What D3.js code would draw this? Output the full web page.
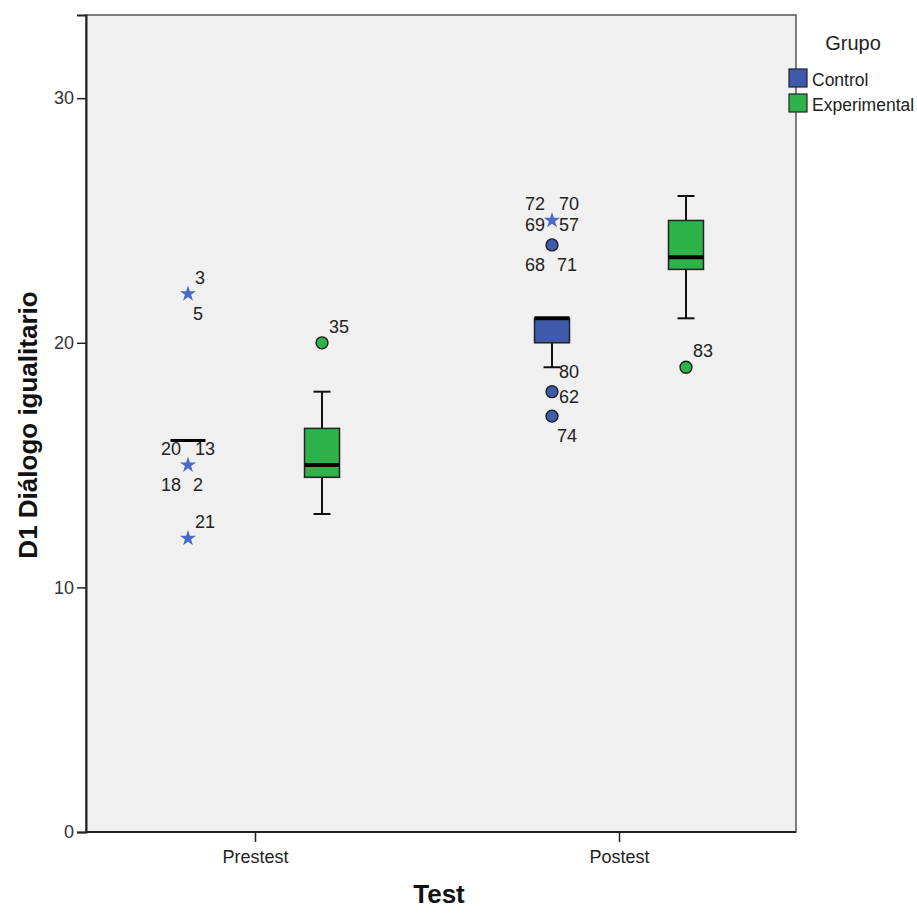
<!DOCTYPE html>
<html>
<head>
<meta charset="utf-8">
<script src="https://cdn.jsdelivr.net/npm/d3@7"></script>
<style>
  body { margin: 0; background: #fff; }
  text { font-family: "Liberation Sans", Arial, sans-serif; }
</style>
</head>
<body>
<script>
// categories
var tests = ["Prestest", "Postest"];
var groups = ["Control", "Experimental"];
var yTicks = [0, 10, 20, 30];

// box stats per test: [low whisker, q1, median, q3, high whisker]
var controlStats = [[16, 16, 16, 16, 16], [19, 20, 21, 21, 21]];
var experimentalStats = [[13, 14.5, 15, 16.5, 18], [21, 23, 23.5, 25, 26]];

// outliers (o), extremes (*), labelled cases
var outliers = [
  {test: "Prestest", group: "Control", value: 22, kind: "extreme", ids: ["3", "5"]},
  {test: "Prestest", group: "Control", value: 15, kind: "extreme", ids: ["20", "13", "18", "2"]},
  {test: "Prestest", group: "Control", value: 12, kind: "extreme", ids: ["21"]},
  {test: "Prestest", group: "Experimental", value: 20, kind: "outlier", ids: ["35"]},
  {test: "Postest", group: "Control", value: 25, kind: "extreme", ids: ["72", "70", "69", "57"]},
  {test: "Postest", group: "Control", value: 24, kind: "outlier", ids: ["68", "71"]},
  {test: "Postest", group: "Control", value: 19, kind: "label", ids: ["80"]},
  {test: "Postest", group: "Control", value: 18, kind: "outlier", ids: ["62"]},
  {test: "Postest", group: "Control", value: 17, kind: "outlier", ids: ["74"]},
  {test: "Postest", group: "Experimental", value: 19, kind: "outlier", ids: ["83"]}
];

// where each case label sits around its mark
var labelPlace = {
  "3": "ne", "5": "se", "20": "nw", "13": "ne", "18": "sw", "2": "se", "21": "ne",
  "35": "ne", "72": "nw", "70": "ne", "69": "w", "57": "e", "68": "sw", "71": "se",
  "80": "e", "62": "e", "74": "se", "83": "ne"
};
// [dx, dy, anchor]
var placeOffset = {
  ne: [7, -10, "start"], nw: [-7, -10, "end"],
  se: [5, 26, "start"], sw: [-7, 26, "end"],
  e: [7, 11, "start"], w: [-7, 11, "end"]
};

var colors = {Control: "#3F59AB", Experimental: "#2DB34A"};
var starColor = "#4B69C6";

var width = 917, height = 913;
var plot = {left: 86, right: 796, top: 15, bottom: 832};

var svg = d3.select("body")
            .append("svg")
            .attr("width", width)
            .attr("height", height);

// scales
var y = d3.scaleLinear()
          .domain([0, 33.4])
          .range([plot.bottom, plot.top]);
var x = d3.scalePoint()
          .domain(tests)
          .range([plot.left + 169, plot.right - 177]);
var xg = d3.scalePoint()
           .domain(groups)
           .range([-67, 67]);

function cx(test, group) {
  return x(test) + xg(group);
}

// plot background
svg.append("rect")
   .attr("x", plot.left)
   .attr("y", plot.top)
   .attr("width", plot.right - plot.left)
   .attr("height", plot.bottom - plot.top)
   .attr("fill", "#F0F0F0")
   .attr("stroke", "#555")
   .attr("stroke-width", 1.5);

// y axis
var yAxis = svg.append("g")
               .attr("transform", "translate(" + plot.left + ",0)")
               .call(d3.axisLeft(y).tickValues(yTicks).tickSize(9).tickPadding(3));
yAxis.select(".domain").attr("stroke", "#222").attr("stroke-width", 2);
yAxis.selectAll(".tick line").attr("stroke", "#222").attr("stroke-width", 1.5);
yAxis.selectAll(".tick text")
     .attr("fill", "#333")
     .style("font-size", "18px")
     .style("font-family", "Liberation Sans, Arial, sans-serif");

// x axis
var xAxis = svg.append("g")
               .attr("transform", "translate(0," + plot.bottom + ")")
               .call(d3.axisBottom(x).tickSize(10).tickPadding(8));
xAxis.select(".domain")
     .attr("d", "M" + plot.left + ",0H" + plot.right)
     .attr("stroke", "#222").attr("stroke-width", 2);
xAxis.selectAll(".tick line").attr("stroke", "#222").attr("stroke-width", 1.5);
xAxis.selectAll(".tick text")
     .attr("fill", "#222")
     .style("font-size", "18px")
     .style("font-family", "Liberation Sans, Arial, sans-serif");

// axis titles
svg.append("text")
   .attr("x", 439)
   .attr("y", 903)
   .attr("text-anchor", "middle")
   .style("font-weight", "bold")
   .style("font-size", "26px")
   .attr("fill", "#111")
   .text("Test");

svg.append("text")
   .attr("transform", "translate(37," + 425 + ") rotate(-90)")
   .attr("text-anchor", "middle")
   .style("font-weight", "bold")
   .style("font-size", "26px")
   .attr("fill", "#111")
   .text("D1 Diálogo igualitario");

// boxes
var boxW = 35, capW = 17;
var boxes = [];
tests.forEach(function(t, i) {
  boxes.push({test: t, group: "Control", s: controlStats[i]});
  boxes.push({test: t, group: "Experimental", s: experimentalStats[i]});
});

var bg = svg.selectAll(".box")
            .data(boxes)
            .enter()
            .append("g")
            .attr("class", "box");

// whiskers
bg.append("line")
  .attr("x1", function(d) { return cx(d.test, d.group); })
  .attr("x2", function(d) { return cx(d.test, d.group); })
  .attr("y1", function(d) { return y(d.s[0]); })
  .attr("y2", function(d) { return y(d.s[4]); })
  .attr("stroke", "#111")
  .attr("stroke-width", 2);
bg.selectAll(".cap")
  .data(function(d) { return [{b: d, v: d.s[0]}, {b: d, v: d.s[4]}]; })
  .enter()
  .append("line")
  .attr("x1", function(d) { return cx(d.b.test, d.b.group) - capW / 2; })
  .attr("x2", function(d) { return cx(d.b.test, d.b.group) + capW / 2; })
  .attr("y1", function(d) { return y(d.v); })
  .attr("y2", function(d) { return y(d.v); })
  .attr("stroke", "#111")
  .attr("stroke-width", 2);

// box body
bg.append("rect")
  .attr("x", function(d) { return cx(d.test, d.group) - boxW / 2; })
  .attr("y", function(d) { return y(d.s[3]); })
  .attr("width", boxW)
  .attr("height", function(d) { return y(d.s[1]) - y(d.s[3]); })
  .attr("fill", function(d) { return colors[d.group]; })
  .attr("stroke", "#222")
  .attr("stroke-width", 1.5);

// median (thinner when the box has collapsed to a line)
bg.append("line")
  .attr("x1", function(d) { return cx(d.test, d.group) - boxW / 2; })
  .attr("x2", function(d) { return cx(d.test, d.group) + boxW / 2; })
  .attr("y1", function(d) { return y(d.s[2]); })
  .attr("y2", function(d) { return y(d.s[2]); })
  .attr("stroke", "#000")
  .attr("stroke-width", function(d) { return d.s[1] === d.s[3] ? 3 : 4; });

// outlier marks
var star = d3.symbol().type(d3.symbolStar).size(80);
outliers.forEach(function(o) {
  var px = cx(o.test, o.group), py = y(o.value);
  if (o.kind === "extreme") {
    svg.append("path")
       .attr("d", star)
       .attr("transform", "translate(" + px + "," + py + ")")
       .attr("fill", starColor);
  } else if (o.kind === "outlier") {
    svg.append("circle")
       .attr("cx", px)
       .attr("cy", py)
       .attr("r", 6)
       .attr("fill", colors[o.group])
       .attr("stroke", "#1a1a1a")
       .attr("stroke-width", 1.3);
  }
  o.ids.forEach(function(id) {
    var off = placeOffset[labelPlace[id]];
    svg.append("text")
       .attr("x", px + off[0])
       .attr("y", py + off[1])
       .attr("text-anchor", off[2])
       .style("font-size", "18px")
       .attr("fill", "#222")
       .text(id);
  });
});

// legend
svg.append("text")
   .attr("x", 853)
   .attr("y", 50)
   .attr("text-anchor", "middle")
   .style("font-size", "20px")
   .attr("fill", "#222")
   .text("Grupo");
var lg = svg.selectAll(".legend")
            .data(groups)
            .enter()
            .append("g")
            .attr("transform", function(d, i) { return "translate(789," + (69 + i * 25) + ")"; });
lg.append("rect")
  .attr("width", 18)
  .attr("height", 18)
  .attr("fill", function(d) { return colors[d]; })
  .attr("stroke", "#222")
  .attr("stroke-width", 1.2);
lg.append("text")
  .attr("x", 23)
  .attr("y", 17)
  .style("font-size", "17.5px")
  .attr("fill", "#222")
  .text(function(d) { return d; });
</script>
</body>
</html>
